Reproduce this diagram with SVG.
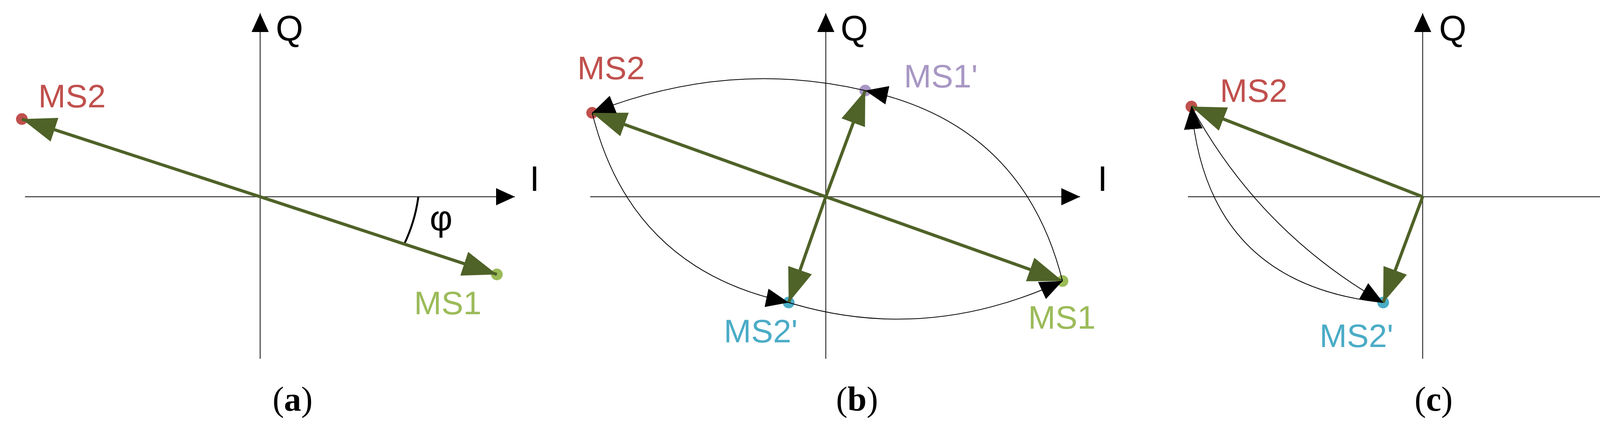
<svg xmlns="http://www.w3.org/2000/svg" width="4364" height="1099" viewBox="0 0 4364 1099">
<defs>
<marker id="ga" markerUnits="userSpaceOnUse" markerWidth="90" markerHeight="64" refX="88" refY="32" orient="auto"><path d="M0,0 L88,32 L0,64 z" fill="#4f6228"/></marker>
<marker id="ka" markerUnits="userSpaceOnUse" markerWidth="50" markerHeight="44" refX="48" refY="22" orient="auto"><path d="M0,0 L48,22 L0,44 z" fill="#000"/></marker>
<marker id="ca" markerUnits="userSpaceOnUse" markerWidth="60" markerHeight="48" refX="58" refY="24" orient="auto"><path d="M0,0 L58,24 L0,48 z" fill="#000"/></marker>
</defs>
<style>
.ax{stroke:#333;stroke-width:2.5;fill:none}
.gv{stroke:#4f6228;stroke-width:8;fill:none;marker-end:url(#ga)}
.cv{stroke:#000;stroke-width:2;fill:none;marker-end:url(#ca)}
.t{font-family:"Liberation Sans",Arial,sans-serif;font-size:84px}
.ax-t{font-family:"Liberation Sans",Arial,sans-serif;font-size:90px;fill:#000}
.cap{font-family:"Liberation Serif","Times New Roman",serif;font-size:88px;fill:#000;text-anchor:middle}
.red{fill:#c0504d}.grn{fill:#9bbb59}.pur{fill:#a897c4}.blu{fill:#4bacc6}
</style>
<g id="panel-a">
<g id="axes-a"><path class="ax" d="M64,504 H1318" marker-end="url(#ka)"/><path class="ax" d="M666,919 V34" marker-end="url(#ka)"/>
<text class="ax-t" x="706" y="104">Q</text><text class="ax-t" x="1356" y="489">I</text></g>
<g id="a-MS2"><circle class="red" cx="56" cy="305" r="15"/><text class="t red" x="98" y="275">MS2</text></g>
<g id="a-MS1"><circle class="grn" cx="1272" cy="703" r="15"/><text class="t grn" x="1060" y="805">MS1</text></g>
<g id="a-phi"><path d="M1071,504 A405,405 0 0 1 1034,627" stroke="#000" stroke-width="5" fill="none"/><text class="ax-t" x="1100" y="590">φ</text></g>
<text class="cap" x="749" y="1052">(<tspan font-weight="bold">a</tspan>)</text>
</g>
<g id="panel-b">
<g id="axes-b"><path class="ax" d="M1511,504 H2765" marker-end="url(#ka)"/><path class="ax" d="M2114,919 V34" marker-end="url(#ka)"/>
<text class="ax-t" x="2152" y="104">Q</text><text class="ax-t" x="2810" y="489">I</text></g>
<g id="b-MS2"><circle class="red" cx="1516" cy="289" r="15"/><text class="t red" x="1478" y="203">MS2</text></g>
<g id="b-MS1p"><circle class="pur" cx="2215" cy="232" r="15"/><text class="t pur" x="2314" y="224">MS1'</text></g>
<g id="b-MS2p"><circle class="blu" cx="2019" cy="775" r="15"/><text class="t blu" x="1853" y="877">MS2'</text></g>
<g id="b-MS1"><circle class="grn" cx="2720" cy="720" r="15"/><text class="t grn" x="2632" y="842">MS1</text></g>
<text class="cap" x="2194" y="1052">(<tspan font-weight="bold">b</tspan>)</text>
</g>
<g id="panel-c">
<g id="axes-c"><path class="ax" d="M3041,504 H4294" marker-end="url(#ka)"/><path class="ax" d="M3642,919 V34" marker-end="url(#ka)"/>
<text class="ax-t" x="3684" y="104">Q</text><text class="ax-t" x="4334" y="489">I</text></g>
<g id="c-MS2"><circle class="red" cx="3050" cy="273" r="15"/><text class="t red" x="3123" y="261">MS2</text></g>
<g id="c-MS2p"><circle class="blu" cx="3541" cy="775" r="15"/><text class="t blu" x="3378" y="889">MS2'</text></g>
<text class="cap" x="3670" y="1052">(<tspan font-weight="bold">c</tspan>)</text>
</g>
<g id="connectors">
<path class="gv" d="M666,504 L56,305"/>
<path class="gv" d="M666,504 L1272,703"/>
<path class="gv" d="M2114,504 L1516,289"/>
<path class="gv" d="M2114,504 L2720,720"/>
<path class="gv" d="M2114,504 L2215,232"/>
<path class="gv" d="M2114,504 L2019,775"/>
<path class="cv" d="M2215,232 Q1865,150 1516,289"/>
<path class="cv" d="M2720,720 Q2619,318 2215,232"/>
<path class="cv" d="M1516,289 Q1615,690 2019,775"/>
<path class="cv" d="M2019,775 Q2370,882 2720,720"/>
<path class="gv" d="M3642,504 L3050,273"/>
<path class="gv" d="M3642,504 L3541,775"/>
<path class="cv" d="M3541,775 Q3089,728 3050,273"/>
<path class="cv" d="M3050,273 Q3225,594 3541,775"/>
</g>
</svg>
